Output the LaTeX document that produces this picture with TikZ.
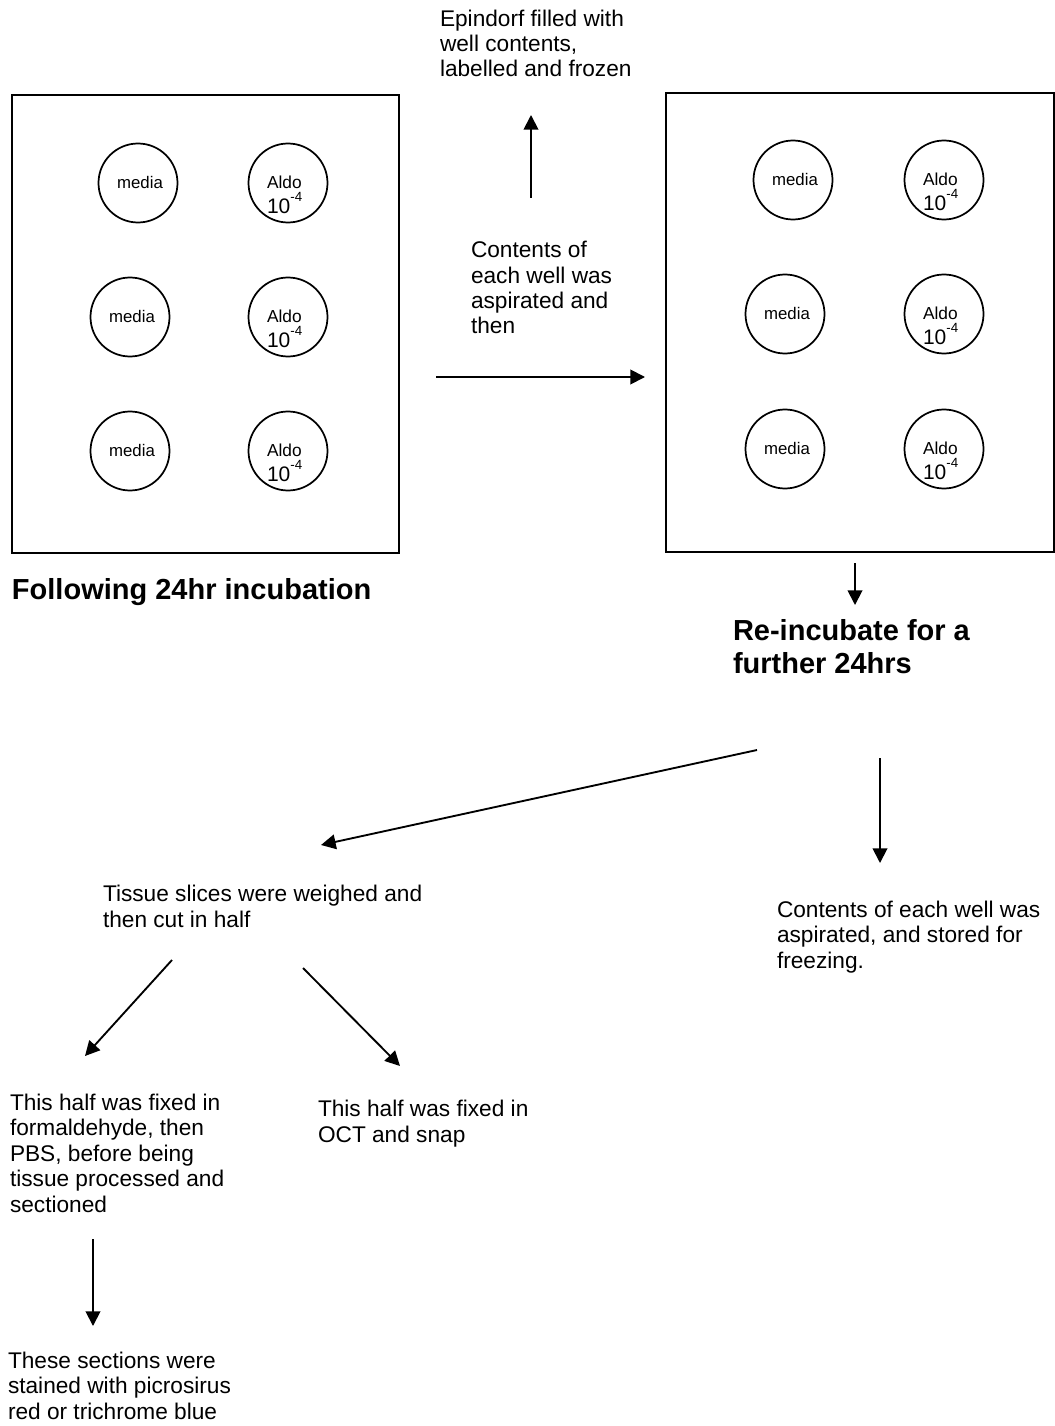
\documentclass[tikz,border=0pt]{standalone}
\usepackage{fontspec}
\setmainfont{Liberation Sans}
\usetikzlibrary{arrows.meta}
\begin{document}
\begin{tikzpicture}[x=0.75pt,y=-0.75pt,
  every node/.style={inner sep=0pt, outer sep=0pt},
  plate/.style={draw, line width=1.5pt, rectangle},
  well/.style={draw, circle, line width=1.3pt, minimum size=59.25pt},
  welltxt/.style={font=\fontsize{12.6}{14}\selectfont, anchor=base},
  aldotxt/.style={font=\fontsize{13}{15}\selectfont, anchor=base west},
  conctxt/.style={font=\fontsize{15.75}{18}\selectfont, anchor=base west},
  body/.style={font=\fontsize{17}{19.05}\selectfont, align=left, anchor=base west},
  heading/.style={font=\bfseries\fontsize{21.75}{24.75}\selectfont, align=left, anchor=base west},
  flow/.style={line width=1.4pt, -{Triangle[length=11pt,width=11pt]}}
]
\useasboundingbox (0,0) rectangle (1055,1426);
\fill[white] (0,0) rectangle (1055,1426);

% plates
\node[plate, minimum width=290.25pt, minimum height=343.5pt] (plateL) at (205.5,324) {};
\node[plate, minimum width=291pt, minimum height=344.25pt] (plateR) at (860,322.5) {};

% wells
\foreach \n/\cx/\cy in {L1/138/183, L2/130/317, L3/130/451, R1/793/180, R2/785/314, R3/785/449}{
  \node[well] (m\n) at (\cx,\cy) {};
  \node[welltxt] (mt\n) at (\cx+2,\cy+5.5) {media};
}
\foreach \n/\cx/\cy in {L1/288/183, L2/288/317, L3/288/451, R1/944/180, R2/944/314, R3/944/449}{
  \node[well] (a\n) at (\cx,\cy) {};
  \node[aldotxt] (at\n) at (\cx-21,\cy+5.5) {Aldo};
  \node[conctxt] (ac\n) at (\cx-21,\cy+30.5) {10\raisebox{0.55em}{\fontsize{10}{10}\selectfont -4}};
}

% texts (base anchor = baseline of the last line)
\node[body] (epi) at (440,77) {Epindorf filled with\\well contents,\\labelled and frozen};
\node[body] (asp) at (471,334) {Contents of\\each well was\\aspirated and\\then};
\node[heading] (follow) at (12,599) {Following 24hr incubation};
\node[heading] (reinc) at (733,673) {Re-incubate for a\\further 24hrs};
\node[body] (tissue) at (103,927) {Tissue slices were weighed and\\then cut in half};
\node[body] (store) at (777,968) {Contents of each well was\\aspirated, and stored for\\freezing.};
\node[body] (formal) at (10,1212) {This half was fixed in\\formaldehyde, then\\PBS, before being\\tissue processed and\\sectioned};
\node[body] (oct) at (318,1142) {This half was fixed in\\OCT and snap};
\node[body] (stain) at (8,1419) {These sections were\\stained with picrosirus\\red or trichrome blue};

% connector end points
\coordinate (upS) at (531,198);   \coordinate (upE) at (531,115);
\coordinate (hS) at (436,377);    \coordinate (hE) at (645,377);
\coordinate (sdS) at (855,563);   \coordinate (sdE) at (855,605);
\coordinate (dgS) at (757,750);   \coordinate (dgE) at (321,845);
\coordinate (rdS) at (880,758);   \coordinate (rdE) at (880,863);
\coordinate (ldS) at (172,960);   \coordinate (ldE) at (85,1056);
\coordinate (rgS) at (303,968);   \coordinate (rgE) at (400,1066);
\coordinate (dnS) at (93,1239);   \coordinate (dnE) at (93,1326);

\draw[flow] (upS) -- (upE);
\draw[flow] (hS) -- (hE);
\draw[flow] (sdS) -- (sdE);
\draw[flow] (dgS) -- (dgE);
\draw[flow] (rdS) -- (rdE);
\draw[flow] (ldS) -- (ldE);
\draw[flow] (rgS) -- (rgE);
\draw[flow] (dnS) -- (dnE);
\end{tikzpicture}
\end{document}
